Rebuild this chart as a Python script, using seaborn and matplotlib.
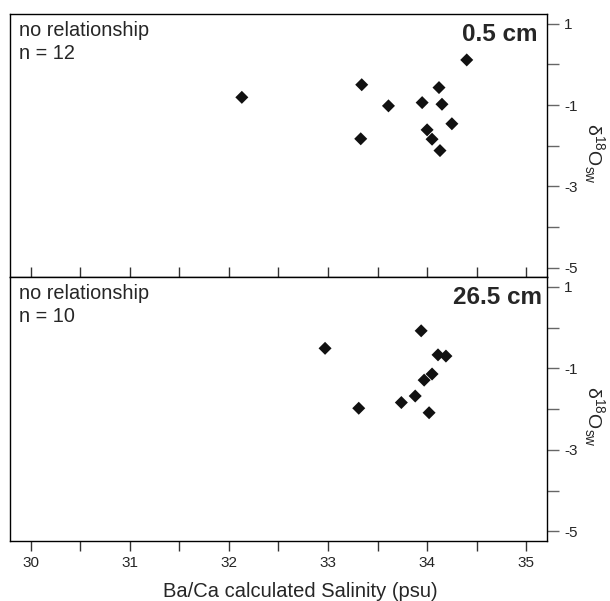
import matplotlib
matplotlib.use("Agg")
import matplotlib.pyplot as plt
import numpy as np
import pandas as pd
import seaborn as sns
from matplotlib.ticker import FixedLocator, MultipleLocator

# ---- data ----
sal_top = [32.13, 33.34, 34.40, 34.12, 33.61, 33.95, 34.15, 34.25, 34.00, 34.05, 33.33, 34.13]
d18o_top = [-0.81, -0.50, 0.11, -0.57, -1.02, -0.94, -0.98, -1.46, -1.61, -1.84, -1.83, -2.12]
sal_bot = [32.97, 33.94, 34.11, 34.19, 34.05, 33.97, 33.88, 33.74, 33.31, 34.02]
d18o_bot = [-0.51, -0.08, -0.67, -0.70, -1.14, -1.29, -1.68, -1.84, -1.98, -2.09]

panel_labels = ["0.5 cm", "26.5 cm"]
notes = ["no relationship\nn = 12", "no relationship\nn = 10"]
x_ticks = [30, 31, 32, 33, 34, 35]
x_ticklabels = ["30", "31", "32", "33", "34", "35"]
y_ticks = [1, -1, -3, -5]
y_ticklabels = ["1", "-1", "-3", "-5"]
y_minor = [0, -2, -4]
y_label = r"δ$^{18}$O$_{\mathrm{sw}}$"
x_label = "Ba/Ca calculated Salinity (psu)"

sns.set_style("ticks")
plt.rcParams["font.family"] = ["Liberation Sans", "DejaVu Sans"]
plt.rcParams["mathtext.fontset"] = "custom"
plt.rcParams["mathtext.rm"] = "Liberation Sans"
plt.rcParams["mathtext.it"] = "Liberation Sans:italic"
plt.rcParams["axes.unicode_minus"] = False

fig = plt.figure(figsize=(6.1, 6.01), dpi=100)
ax1 = fig.add_axes([0.0164, 0.5391, 0.8803, 0.4376])
ax2 = fig.add_axes([0.0164, 0.1003, 0.8803, 0.4388])

panels = [
    (ax1, sal_top, d18o_top, panel_labels[0], notes[0], 0.982),
    (ax2, sal_bot, d18o_bot, panel_labels[1], notes[1], 0.99),
]

for i, (ax, xs, ys, lab, note, lx) in enumerate(panels):
    df = pd.DataFrame({"sal": xs, "d18o": ys})
    sns.scatterplot(data=df, x="sal", y="d18o", marker="D", color="#111111",
                    s=44, edgecolor="none", ax=ax, legend=False)
    ax.set_xlim(29.79, 35.21)
    ax.set_ylim(-5.23, 1.24)
    for sp in ax.spines.values():
        sp.set_visible(True)
        sp.set_linewidth(1.0)
        sp.set_color("black")
    # right y axis
    ax.yaxis.tick_right()
    ax.set_yticks(y_ticks)
    ax.set_yticklabels(y_ticklabels)
    ax.yaxis.set_minor_locator(FixedLocator(y_minor))
    ax.tick_params(axis="y", which="both", direction="out", length=8.5,
                   width=1, color="0.4", labelsize=11, pad=4,
                   left=False, right=True)
    # x axis
    ax.set_xticks(x_ticks)
    ax.xaxis.set_minor_locator(MultipleLocator(0.5))
    if i == 0:
        ax.tick_params(axis="x", which="both", direction="in", length=7,
                       width=1, labelbottom=False, color="0.2")
    else:
        ax.set_xticklabels(x_ticklabels)
        ax.tick_params(axis="x", which="both", direction="out", length=7,
                       width=1, labelsize=11, pad=4, color="0.2")
    ax.set_xlabel("")
    ax.set_ylabel("")
    ax.text(0.017, 0.972, note, transform=ax.transAxes, ha="left", va="top",
            fontsize=14.3, linespacing=1.22)
    ax.text(lx, 0.965, lab, transform=ax.transAxes, ha="right", va="top",
            fontsize=17.5, fontweight="bold")
    ax.text(1.0875, 0.47, y_label, transform=ax.transAxes,
            rotation=-90, ha="center", va="center", fontsize=14)

ax2.set_xlabel(x_label, fontsize=14.5, labelpad=8)
ax2.xaxis.set_label_coords(0.54, -0.155)

fig.savefig("out.png", dpi=100)
